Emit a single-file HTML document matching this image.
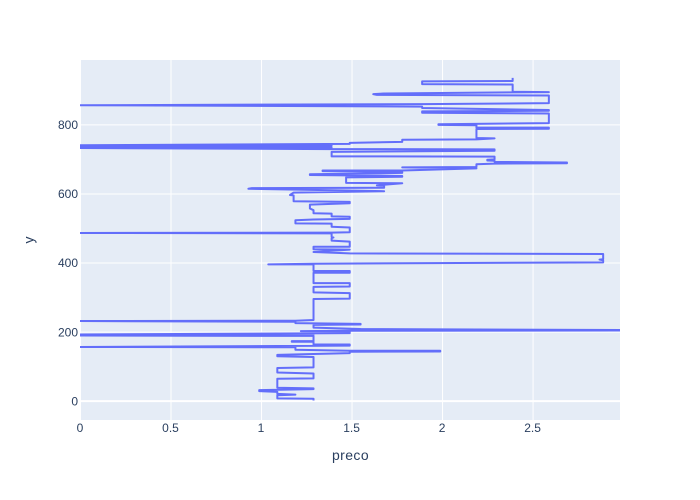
<!DOCTYPE html>
<html>
<head>
<meta charset="utf-8">
<style>
html,body{margin:0;padding:0;background:#fff;}
svg{display:block;}
text{font-family:"Liberation Sans",sans-serif;fill:#2a3f5f;}
</style>
</head>
<body>
<svg id="chart" width="700" height="500" viewBox="0 0 700 500" xmlns="http://www.w3.org/2000/svg">
  <defs><clipPath id="plot-clip"><rect x="80" y="60" width="540" height="360"></rect></clipPath></defs>
  <rect x="0" y="0" width="700" height="500" fill="#ffffff"></rect>
  <rect x="80" y="60" width="540" height="360" fill="#e5ecf6"></rect>
  <g id="grid"></g>
  <g id="series" clip-path="url(#plot-clip)"></g>
  <g id="x-ticks"></g>
  <g id="y-ticks"></g>
  <text x="350.5" y="460" font-size="14" letter-spacing="0.4" text-anchor="middle">preco</text>
  <text x="0" y="0" font-size="14" text-anchor="middle" transform="translate(33.5,240) rotate(-90)">y</text>
</svg>
<script>
const xTickValues = [0, 0.5, 1, 1.5, 2, 2.5];
const yTickValues = [0, 200, 400, 600, 800];
const preco = [
1.29,1.29,1.09,1.09,1.19,1.09,1.09,0.99,0.99,1.29,
1.29,1.09,1.09,1.29,1.29,1.09,1.09,1.29,1.29,1.09,
1.09,1.49,1.49,1.99,1.99,1.49,1.19,1.19,0,1.49,
1.49,1.29,1.29,1.17,1.17,1.29,1.29,0,1.29,0,
1.49,1.49,1.22,1.49,3.49,1.55,1.29,1.29,1.55,1.55,
1.19,1.19,0,1.19,1.29,1.29,1.49,1.49,1.29,1.29,
1.49,1.49,1.29,1.29,1.49,1.49,1.29,1.29,1.04,1.29,
2.89,2.89,2.87,2.89,2.89,1.49,1.29,1.49,1.29,1.29,
1.49,1.49,1.39,1.39,1.4,1.39,1.39,0,1.39,1.49,
1.49,1.39,1.39,1.19,1.19,1.29,1.49,1.49,1.39,1.39,
1.29,1.29,1.27,1.27,1.49,1.49,1.18,1.18,1.16,1.18,
1.68,0.93,0.95,1.68,1.68,1.64,1.78,1.47,1.47,1.78,
1.78,1.27,1.27,1.78,1.78,1.34,1.34,1.78,2.19,1.78,
2.19,2.19,2.29,2.69,2.69,2.29,2.29,2.25,2.25,2.29,
2.29,1.39,1.39,2.29,2.29,1.39,0,1.39,0,1.39,
0,1.49,1.49,1.78,1.78,2.19,2.29,2.19,2.19,2.59,
2.59,2.19,2.19,1.98,1.98,2.59,2.59,1.89,1.89,2.59,
2.59,1.89,1.89,0,1.89,2.59,2.59,1.64,
1.62,1.68,2.59,2.39,2.39,1.89,1.89,2.39,2.39
];
const yValues = [
2,7,8,17,19,21,27,29,32,35,
37,39,65,66,80,83,96,98,128,130,
134,139,143,144,146,146,149,156,157,161,
164,164,172,172,174,174,189,190,192,193,
197,202,203,204,205,209,213,221,222,224,
226,230,232,233,235,296,297,313,315,331,
332,342,342,372,372,377,377,396,396,398,
402,408,410,411,426,428,432,439,440,447,
447,462,465,472,474,476,486,487,488,489,
503,505,514,515,524,526,528,534,535,543,
544,553,558,569,573,577,579,596,597,604,
608,615,617,618,624,625,631,632,648,650,
652,655,657,661,664,666,668,668,674,677,
678,686,688,689,691,693,696,697,699,700,
708,709,722,725,729,730,733,735,738,740,
741,745,748,751,757,758,761,762,788,789,
792,792,799,800,802,805,833,835,839,841,
843,849,853,857,860,863,885,887,
889,891,895,896,917,918,926,927,936
];

const plotLeft = 80, plotRight = 620, plotTop = 60, plotBottom = 420;
const xDomain = [0, 2.983];
const yDomain = [-54.5, 987.9];
function xScale(v) { return plotLeft + (v - xDomain[0]) / (xDomain[1] - xDomain[0]) * (plotRight - plotLeft); }
function yScale(v) { return plotBottom - (v - yDomain[0]) / (yDomain[1] - yDomain[0]) * (plotBottom - plotTop); }

const NS = 'http://www.w3.org/2000/svg';
const grid = document.getElementById('grid');
const xTicks = document.getElementById('x-ticks');
const yTicks = document.getElementById('y-ticks');

xTickValues.forEach(function (t) {
  const line = document.createElementNS(NS, 'line');
  
  
  line.setAttribute('x1', xScale(t) + (t === 0 ? 0 : 0.5));
  line.setAttribute('x2', xScale(t) + (t === 0 ? 0 : 0.5));
  line.setAttribute('y1', plotTop);
  line.setAttribute('y2', plotBottom);
  line.setAttribute('stroke', '#ffffff');
  line.setAttribute('stroke-width', t === 0 ? 2 : 1);
  grid.appendChild(line);
  const label = document.createElementNS(NS, 'text');
  
  
  label.setAttribute('x', xScale(t));
  label.setAttribute('y', 432);
  label.setAttribute('font-size', 12);
  label.setAttribute('text-anchor', 'middle');
  label.textContent = String(t);
  xTicks.appendChild(label);
});

yTickValues.forEach(function (t) {
  const line = document.createElementNS(NS, 'line');
  
  
  line.setAttribute('x1', plotLeft);
  line.setAttribute('x2', plotRight);
  line.setAttribute('y1', yScale(t));
  line.setAttribute('y2', yScale(t));
  line.setAttribute('stroke', '#ffffff');
  line.setAttribute('stroke-width', t === 0 ? 2 : 1);
  grid.appendChild(line);
  const label = document.createElementNS(NS, 'text');
  
  
  label.setAttribute('x', 78);
  label.setAttribute('y', yScale(t) + 4.2);
  label.setAttribute('font-size', 12);
  label.setAttribute('text-anchor', 'end');
  label.textContent = String(t);
  yTicks.appendChild(label);
});

const path = document.createElementNS(NS, 'path');


path.setAttribute('d', preco.map(function (p, i) {
  return (i === 0 ? 'M' : 'L') + xScale(p).toFixed(2) + ',' + yScale(yValues[i]).toFixed(2);
}).join(''));
path.setAttribute('fill', 'none');
path.setAttribute('stroke', '#636efa');
path.setAttribute('stroke-width', 2);
path.setAttribute('stroke-linejoin', 'round');
document.getElementById('series').appendChild(path);
</script>
</body>
</html>
